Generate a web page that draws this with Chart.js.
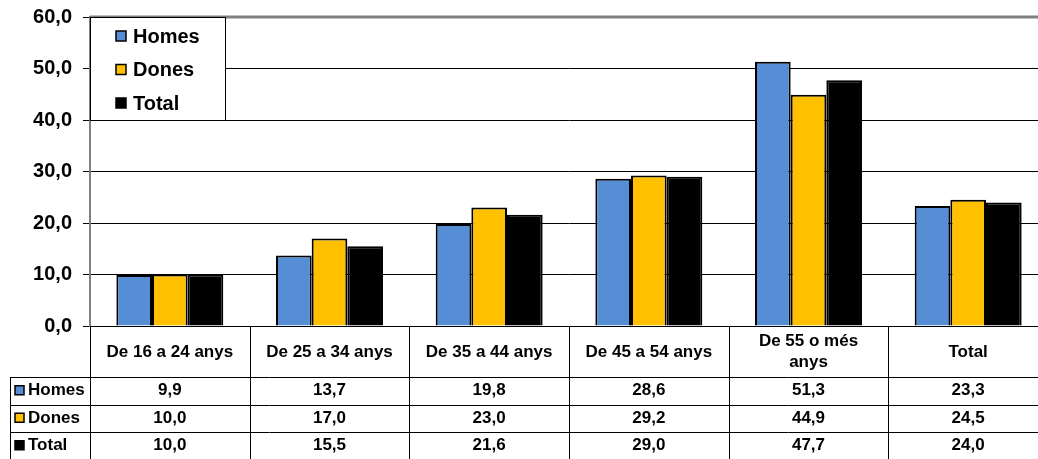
<!DOCTYPE html>
<html>
<head>
<meta charset="utf-8">
<script src="https://cdn.jsdelivr.net/npm/chart.js@4/dist/chart.umd.min.js"></script>
<style>
    html, body { margin: 0; padding: 0; background: #fff; overflow: hidden; }
    #wrap { width: 1048px; height: 459px; }
</style>
</head>
<body>
<div id="wrap"><canvas id="chart" width="1048" height="459"></canvas></div>
<script>
// data
var categories = ["De 16 a 24 anys", "De 25 a 34 anys", "De 35 a 44 anys", "De 45 a 54 anys", ["De 55 o més", "anys"], "Total"];
var homes = [9.9, 13.7, 19.8, 28.6, 51.3, 23.3];
var dones = [10.0, 17.0, 23.0, 29.2, 44.9, 24.5];
var total = [10.0, 15.5, 21.6, 29.0, 47.7, 24.0];
var seriesNames = ["Homes", "Dones", "Total"];
var seriesColors = ["#558ED5", "#FFC000", "#000000"];

function fmt(v) {
    return v.toFixed(1).replace(".", ",");
}

// legend box + data table under the plot
var tablePlugin = {
    id: "tablePlugin",
    afterDraw: function (chart) {
        var ctx = chart.ctx;
        var area = chart.chartArea;
        var x = chart.scales.x;
        var n = categories.length;
        var colW = (area.right - area.left) / n;
        var top = area.bottom;
        var headerH = 51;
        var rowH = 27.5;
        var tableLeft = 10;
        var rows = [homes, dones, total];

        ctx.save();
        ctx.strokeStyle = "#000";
        ctx.lineWidth = 1;

        // vertical lines
        for (var i = 0; i <= n; i++) {
            var bx = Math.round(area.left + i * colW) + 0.5;
            ctx.beginPath();
            ctx.moveTo(bx, top);
            ctx.lineTo(bx, chart.height);
            ctx.stroke();
        }
        ctx.beginPath();
        ctx.moveTo(tableLeft + 0.5, top + headerH);
        ctx.lineTo(tableLeft + 0.5, chart.height);
        ctx.stroke();

        // horizontal lines
        for (var r = 0; r < 3; r++) {
            var hy = Math.round(top + headerH + r * rowH) + 0.5;
            ctx.beginPath();
            ctx.moveTo(tableLeft, hy);
            ctx.lineTo(area.right, hy);
            ctx.stroke();
        }

        // header labels
        ctx.fillStyle = "#000";
        ctx.textAlign = "center";
        ctx.textBaseline = "middle";
        ctx.font = "bold 17px 'Liberation Sans', Arial, sans-serif";
        for (var c = 0; c < n; c++) {
            var cx = x.getPixelForValue(c);
            var lab = categories[c];
            if (Array.isArray(lab)) {
                ctx.fillText(lab[0], cx, top + 15);
                ctx.fillText(lab[1], cx, top + 36);
            } else {
                ctx.fillText(lab, cx, top + 26);
            }
        }

        // rows
        for (var r2 = 0; r2 < 3; r2++) {
            var cy = top + headerH + r2 * rowH + rowH / 2;
            ctx.fillStyle = seriesColors[r2];
            ctx.fillRect(15, cy - 5, 9, 9);
            ctx.strokeStyle = "#000";
            ctx.lineWidth = 1.5;
            ctx.strokeRect(15, cy - 5, 9, 9);
            ctx.fillStyle = "#000";
            ctx.textAlign = "left";
            ctx.fillText(seriesNames[r2], 28, cy);
            ctx.textAlign = "center";
            for (var c2 = 0; c2 < n; c2++) {
                ctx.fillText(fmt(rows[r2][c2]), x.getPixelForValue(c2), cy);
            }
        }

        // top border of the plot
        ctx.strokeStyle = "#808080";
        ctx.lineWidth = 3;
        ctx.beginPath();
        ctx.moveTo(area.left, area.top);
        ctx.lineTo(area.right, area.top);
        ctx.stroke();

        // legend box
        var lx = area.left, ly = area.top, lw = 135, lh = 103;
        ctx.fillStyle = "#fff";
        ctx.fillRect(lx, ly, lw, lh);
        ctx.strokeStyle = "#000";
        ctx.lineWidth = 1;
        ctx.strokeRect(lx + 0.5, ly + 0.5, lw, lh);
        ctx.font = "bold 20px 'Liberation Sans', Arial, sans-serif";
        ctx.textAlign = "left";
        for (var k = 0; k < 3; k++) {
            var ky = ly + 19 + k * 33.5;
            ctx.fillStyle = seriesColors[k];
            ctx.fillRect(lx + 26, ky - 5, 10, 10);
            ctx.strokeStyle = "#000";
            ctx.lineWidth = 1.5;
            ctx.strokeRect(lx + 26, ky - 5, 10, 10);
            ctx.fillStyle = "#000";
            ctx.fillText(seriesNames[k], lx + 43, ky + 1);
        }
        ctx.restore();
    }
};

var ctx = document.getElementById("chart").getContext("2d");
var chart = new Chart(ctx, {
    type: "bar",
    data: {
        labels: categories,
        datasets: [
            { label: seriesNames[0], data: homes, backgroundColor: seriesColors[0], borderColor: "#000", borderWidth: 2 },
            { label: seriesNames[1], data: dones, backgroundColor: seriesColors[1], borderColor: "#000", borderWidth: 2 },
            { label: seriesNames[2], data: total, backgroundColor: seriesColors[2], borderColor: "#000", borderWidth: 2 },
        ],
    },
    options: {
        responsive: false,
        animation: false,
        devicePixelRatio: 1,
        layout: {
            padding: { top: 17, bottom: 133, left: 0, right: 0 },
        },
        datasets: {
            bar: { categoryPercentage: 0.67, barPercentage: 1.0 },
        },
        scales: {
            x: {
                display: false,
            },
            y: {
                min: 0,
                max: 60,
                afterFit: function (scale) {
                    scale.width = 90;
                    scale.paddingTop = 0;
                    scale.paddingBottom = 0;
                },
                ticks: {
                    stepSize: 10,
                    padding: 11,
                    color: "#000",
                    font: { family: "'Liberation Sans', Arial, sans-serif", size: 20, weight: "bold" },
                    callback: function (v) {
                        return fmt(v);
                    },
                },
                grid: {
                    color: "#000",
                    lineWidth: 1,
                    drawTicks: true,
                    tickLength: 7,
                },
                border: {
                    display: true,
                    color: "#808080",
                    width: 2,
                },
            },
        },
        plugins: {
            legend: { display: false },
            tooltip: { enabled: false },
        },
    },
    plugins: [tablePlugin],
});
</script>
</body>
</html>
